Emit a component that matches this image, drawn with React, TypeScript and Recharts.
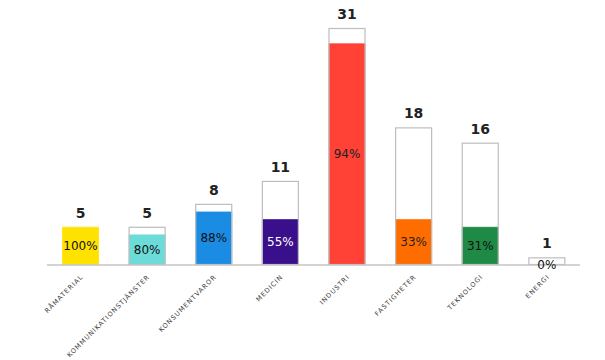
import React from 'react';
import { BarChart, Bar, XAxis, YAxis, LabelList } from 'recharts';

const categories = ['RÅMATERIAL', 'KOMMUNIKATIONSTJÄNSTER', 'KONSUMENTVAROR', 'MEDICIN', 'INDUSTRI', 'FASTIGHETER', 'TEKNOLOGI', 'ENERGI'];
const totals = [5, 5, 8, 11, 31, 18, 16, 1];
const filled = [5, 4, 7, 6, 29, 6, 5, 0];
const percentLabels = ['100%', '80%', '88%', '55%', '94%', '33%', '31%', '0%'];
const colors = ['#ffe200', '#6cdcd8', '#1b8ce3', '#3a0f8c', '#ff4136', '#ff6d00', '#1f8a45'];
const percentTextColors = ['#111', '#111', '#111', '#fff', '#222', '#222', '#111', '#111'];

const chartData = categories.map((name, i) => ({
  name,
  filled: filled[i],
  rest: totals[i] - filled[i],
  total: totals[i],
  pct: percentLabels[i],
  color: colors[i] || '#ffffff',
  pctColor: percentTextColors[i],
}));

// rotated category labels under the axis
const AngledTick = ({ x, y, payload }: any) => {
  const tx = x + 2;
  const ty = y + 5;
  return (
    <text
      x={tx}
      y={ty}
      transform={`rotate(-45, ${tx}, ${ty})`}
      textAnchor="end"
      dominantBaseline="middle"
      fontSize={6.6}
      letterSpacing={0.95}
      fill="#444"
      fontFamily="'DejaVu Sans', sans-serif"
    >
      {payload.value}
    </text>
  );
};

// percent text centered on the filled part
const PctLabel = ({ x, y, width, height, index }: any) => {
  const d = chartData[index];
  return (
    <text
      x={x + width / 2}
      y={y + height / 2}
      textAnchor="middle"
      dominantBaseline="central"
      fontSize={12}
      fill={d.pctColor}
      fontFamily="'DejaVu Sans', sans-serif"
    >
      {d.pct}
    </text>
  );
};

// total value above the whole bar
const TotalLabel = ({ x, y, width, index }: any) => (
  <text
    x={x + width / 2}
    y={y - 9}
    textAnchor="middle"
    fontSize={14}
    fontWeight="bold"
    fill="#222"
    fontFamily="'DejaVu Sans', sans-serif"
  >
    {chartData[index].total}
  </text>
);

const FilledShape = ({ x, y, width, height, payload }: any) => {
  if (!height) return null;
  return <rect x={x + 0.5} y={y + 0.5} width={width - 1} height={height - 1} fill={payload.color} stroke={payload.color} strokeOpacity={0.8} />;
};

const RestShape = ({ x, y, width, height, payload }: any) => {
  const filledH = payload.total ? (height * payload.filled) / Math.max(payload.rest, 1e-9) : 0;
  return (
    <rect
      x={x + 0.5}
      y={y + 0.5}
      width={width - 1}
      height={height + (payload.rest ? filledH : 0) - 1}
      fill="none"
      stroke="#bdbdbd"
      strokeWidth={1.2}
    />
  );
};

export default function App() {
  return (
    <div style={{ position: 'absolute', left: 0, top: 0, width: 605, height: 360, background: '#fff' }}>
      <BarChart
        width={605}
        height={360}
        data={chartData}
        margin={{ top: 28, right: 25, left: 47, bottom: 0 }}
        barCategoryGap={29}
      >
        <XAxis
          dataKey="name"
          height={95}
          interval={0}
          tickLine={false}
          axisLine={{ stroke: '#c4c4c4', strokeWidth: 1.5 }}
          tick={<AngledTick />}
          tickMargin={0}
        />
        <YAxis hide domain={[0, 31]} />
        <Bar dataKey="filled" stackId="a" barSize={37} shape={<FilledShape />} isAnimationActive={false}>
          <LabelList dataKey="pct" content={<PctLabel />} />
        </Bar>
        <Bar dataKey="rest" stackId="a" barSize={37} fill="#fff" shape={<RestShape />} isAnimationActive={false}>
          <LabelList dataKey="total" content={<TotalLabel />} />
        </Bar>
      </BarChart>
    </div>
  );
}
